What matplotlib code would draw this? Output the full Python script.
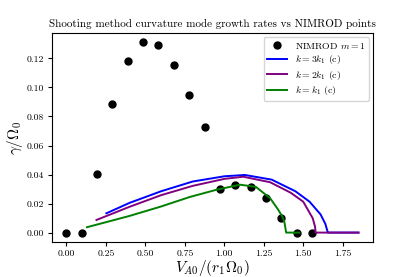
import numpy as np
import matplotlib
matplotlib.use("Agg")
import matplotlib.pyplot as plt

plt.rcParams["font.family"] = ["cmr10", "DejaVu Serif"]
plt.rcParams["mathtext.fontset"] = "cm"
plt.rcParams["axes.formatter.use_mathtext"] = True

# NIMROD m=1 growth rates
nim_x = [0.0, 0.097, 0.194, 0.289, 0.389, 0.485, 0.582, 0.679, 0.776, 0.875,
         0.972, 1.069, 1.167, 1.264, 1.361, 1.458, 1.555]
nim_y = [0.0, 0.0, 0.0402, 0.0883, 0.118, 0.131, 0.1294, 0.1156, 0.0947, 0.0729,
         0.0299, 0.0326, 0.0317, 0.0239, 0.0099, 0.0, 0.0]

# shooting method curves
k3_x = [0.253, 0.4, 0.6, 0.8, 1.0, 1.13, 1.3, 1.45, 1.54, 1.61, 1.64, 1.656, 1.85]
k3_y = [0.0133, 0.0205, 0.0285, 0.0352, 0.0388, 0.0397, 0.0365, 0.0285, 0.0213, 0.0125, 0.006, 0.0, 0.0]

k2_x = [0.19, 0.4, 0.6, 0.8, 1.0, 1.12, 1.29, 1.42, 1.5, 1.56, 1.575, 1.578, 1.85]
k2_y = [0.0087, 0.0178, 0.0258, 0.0322, 0.0370, 0.0385, 0.0347, 0.0275, 0.0213, 0.0099, 0.004, 0.0, 0.0]

k1_x = [0.13, 0.4, 0.6, 0.78, 0.95, 1.1, 1.2, 1.29, 1.34, 1.365, 1.38, 1.392, 1.475]
k1_y = [0.0037, 0.0115, 0.0180, 0.0245, 0.0295, 0.0330, 0.0315, 0.0237, 0.0160, 0.0115, 0.0076, 0.0, 0.0]

fig = plt.figure(figsize=(4.15, 2.77), dpi=100)
ax = fig.add_axes([0.125, 0.126, 0.774, 0.755])

ax.plot(nim_x, nim_y, "o", color="black", markersize=5, label=r"NIMROD $m=1$")
ax.plot(k3_x, k3_y, color="blue", lw=1.4, label=r"$k=3k_1$ (c)")
ax.plot(k2_x, k2_y, color="purple", lw=1.4, label=r"$k=2k_1$ (c)")
ax.plot(k1_x, k1_y, color="green", lw=1.4, label=r"$k=k_1$ (c)")

ax.set_xticks([0.0, 0.25, 0.5, 0.75, 1.0, 1.25, 1.5, 1.75])
ax.set_yticks([0.0, 0.02, 0.04, 0.06, 0.08, 0.1, 0.12])
ax.xaxis.set_major_formatter(matplotlib.ticker.FormatStrFormatter("%.2f"))
ax.yaxis.set_major_formatter(matplotlib.ticker.FormatStrFormatter("%.2f"))
ax.tick_params(labelsize=7, length=3, pad=2.5)
ax.set_xlabel(r"$V_{A0}/(r_1\Omega_0)$", fontsize=11, labelpad=0)
ax.set_ylabel(r"$\gamma/\Omega_0$", fontsize=11, labelpad=1)
ax.set_title("Shooting method curvature mode growth rates vs NIMROD points", fontsize=8, pad=4)
ax.legend(loc="upper right", fontsize=7, handlelength=2, labelspacing=0.25,
          borderaxespad=0.4)

fig.savefig("out.png", dpi=100)
